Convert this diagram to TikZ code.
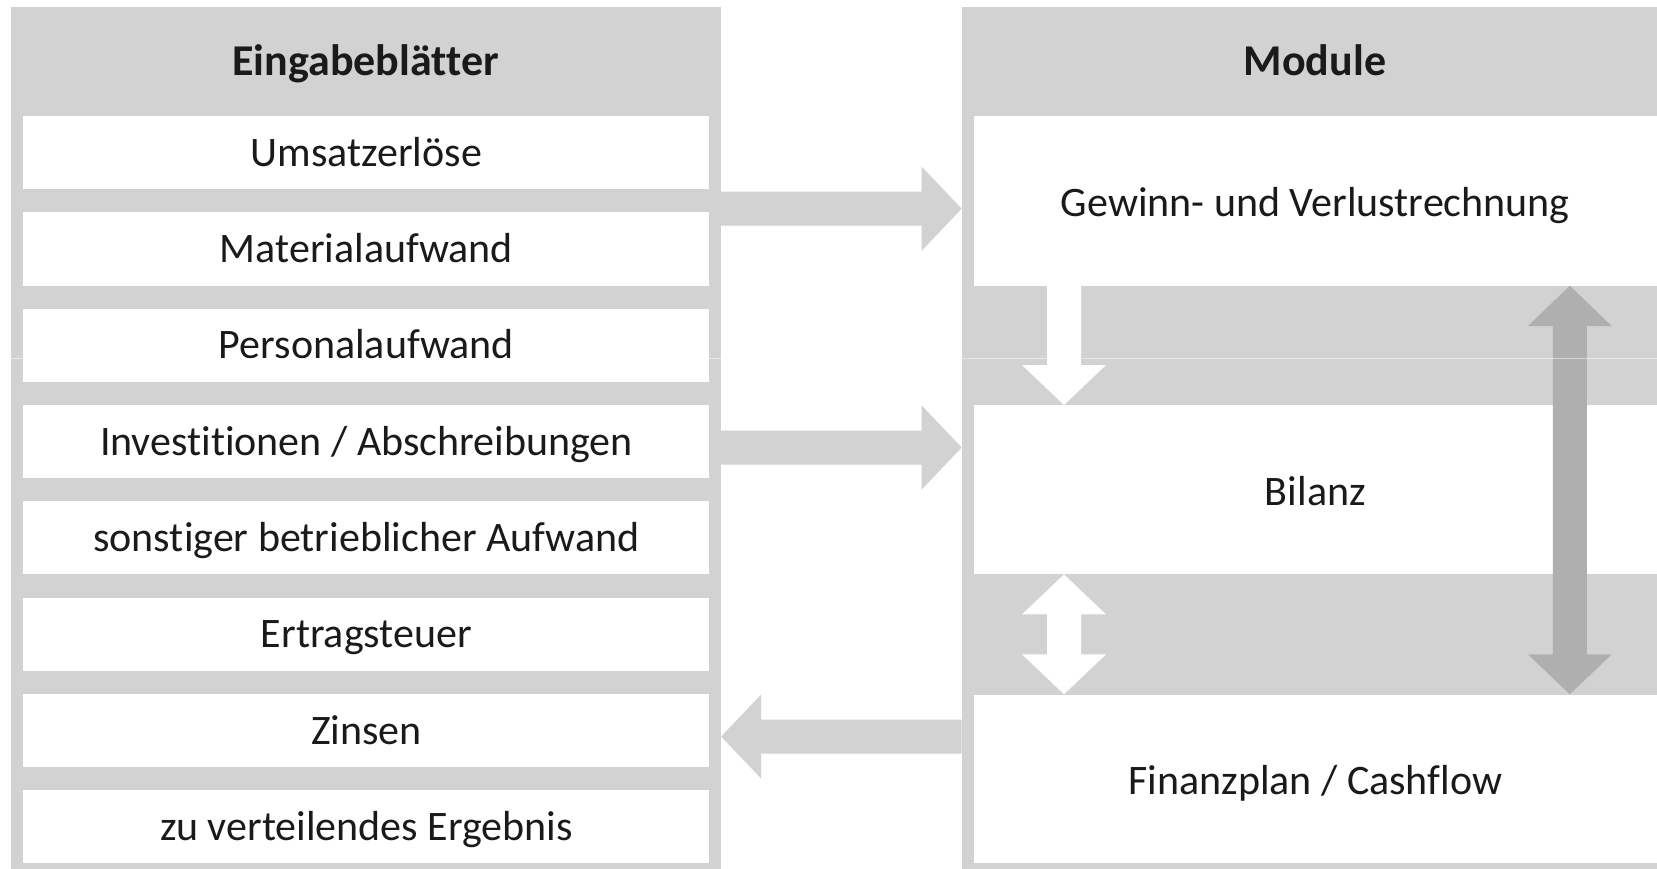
\documentclass[tikz,border=0pt]{standalone}
\usepackage{fontspec}
\setmainfont{Carlito}[Ligatures={NoCommon,NoContextual}]
\usetikzlibrary{calc}
\definecolor{lg}{HTML}{D2D2D2}
\definecolor{dg}{HTML}{AFAFAF}
\definecolor{tx}{HTML}{1A1A1A}
\begin{document}
\begin{tikzpicture}[x=1pt,y=-1pt,
  panel/.style={fill=lg, draw=none, inner sep=0pt, anchor=north west},
  field/.style={fill=white, draw=none, inner sep=0pt, anchor=north west, text=tx,
    font=\fontsize{42}{50}\selectfont, text height=27pt, text depth=0pt},
  module/.style={field, text height=32pt},
  headtext/.style={inner sep=0pt, text=tx, font=\bfseries\fontsize{44}{52}\selectfont,
    text height=28.3pt, text depth=0pt},
  grayfill/.style={fill=lg},
  whitefill/.style={fill=white},
  darkfill/.style={fill=dg}]
\useasboundingbox (0,0) rectangle (1657,869);
\fill[white] (0,0) rectangle (1657,869);
% left panel
\node[panel, minimum width=710.1pt, minimum height=861.7pt] (lpanel) at (10.6,7.3) {};
\node[headtext] (lhead) at (365.6,61) {Eingabeblätter};
\foreach \t [count=\i from 0] in {Umsatzerlöse,Materialaufwand,Personalaufwand,Investitionen / Abschreibungen,sonstiger betrieblicher Aufwand,Ertragsteuer,Zinsen,zu verteilendes Ergebnis}
  \node[field, minimum width=686pt, minimum height=73pt] (b\i) at (23.2,{116+96.3*\i}) {\t};
% right panel
\node[panel, minimum width=695.3pt, minimum height=861.7pt] (rpanel) at (961.7,7.3) {};
\node[headtext] (rhead) at (1315,61) {Module};
\node[module, minimum width=683.7pt, minimum height=169.3pt] (guv) at (973.3,116) {Gewinn- und Verlustrechnung};
\node[module, minimum width=683.7pt, minimum height=169pt] (bil) at (973.3,405) {Bilanz};
\node[module, minimum width=683.7pt, minimum height=168pt] (fin) at (973.3,694.3) {Finanzplan / Cashflow};
% helper coordinates
\coordinate (y1) at (0,208.7);
\coordinate (y2) at (0,447.5);
\coordinate (y3) at (0,736.5);
\coordinate (xw) at (1064,0);
\coordinate (xd) at (1569.8,0);
% right arrows
\foreach \yy in {y1,y2}
  \fill[grayfill] let \p1=(lpanel.east |- \yy), \p2=(rpanel.west |- \yy) in
    (\x1,\y1+17pt) -- (\x2-40pt,\y1+17pt) -- (\x2-40pt,\y1+42pt) -- (\x2,\y2)
    -- (\x2-40pt,\y1-42pt) -- (\x2-40pt,\y1-17pt) -- (\x1,\y1-17pt) -- cycle;
% left arrow
\fill[grayfill] let \p1=(rpanel.west |- y3), \p2=(lpanel.east |- y3) in
  (\x1,\y1+17pt) -- (\x2+40pt,\y1+17pt) -- (\x2+40pt,\y1+42pt) -- (\x2,\y2)
  -- (\x2+40pt,\y1-42pt) -- (\x2+40pt,\y1-17pt) -- (\x1,\y1-17pt) -- cycle;
% white down arrow
\fill[whitefill] let \p1=(guv.south -| xw), \p2=(bil.north -| xw) in
  (\x1-17pt,\y1) -- (\x1-17pt,\y2+40pt) -- (\x1-42pt,\y2+40pt) -- (\x2,\y2)
  -- (\x1+42pt,\y2+40pt) -- (\x1+17pt,\y2+40pt) -- (\x1+17pt,\y1) -- cycle;
% white double arrow
\fill[whitefill] let \p1=(bil.south -| xw), \p2=(fin.north -| xw) in
  (\x1,\y1) -- (\x1+42pt,\y1-40pt) -- (\x1+17pt,\y1-40pt) -- (\x1+17pt,\y2+40pt)
  -- (\x1+42pt,\y2+40pt) -- (\x2,\y2) -- (\x1-42pt,\y2+40pt) -- (\x1-17pt,\y2+40pt)
  -- (\x1-17pt,\y1-40pt) -- (\x1-42pt,\y1-40pt) -- cycle;
% dark double arrow
\fill[darkfill] let \p1=(guv.south -| xd), \p2=(fin.north -| xd) in
  (\x1,\y1) -- (\x1+42pt,\y1-40.5pt) -- (\x1+17pt,\y1-40.5pt) -- (\x1+17pt,\y2+40pt)
  -- (\x1+42pt,\y2+40pt) -- (\x2,\y2) -- (\x1-42pt,\y2+40pt) -- (\x1-17pt,\y2+40pt)
  -- (\x1-17pt,\y1-40.5pt) -- (\x1-42pt,\y1-40.5pt) -- cycle;
% faint seam
\draw[white, opacity=0.5, line width=1pt] (0,358.3) -- (1657,358.3);
\end{tikzpicture}
\end{document}
